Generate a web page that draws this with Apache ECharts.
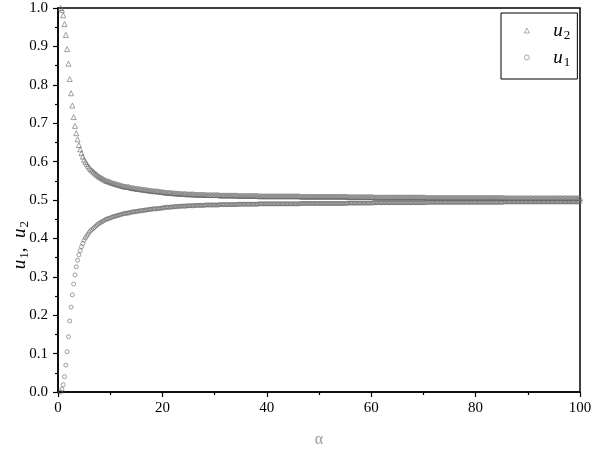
<!DOCTYPE html>
<html>
<head>
<meta charset="utf-8">
<script src="https://cdn.jsdelivr.net/npm/echarts@6/dist/echarts.min.js"></script>
<style>
  html, body { margin: 0; padding: 0; background: #fff; }
  #chart { width: 592px; height: 450px; }
</style>
</head>
<body>
<div id="chart"></div>
<script>
// x positions of the samples
const xs = [
  0.5, 0.75, 1, 1.25, 1.5, 1.75, 2, 2.25, 2.5, 2.75, 3, 3.25, 3.5, 3.75, 4, 4.25, 4.5, 4.75, 5,
  5.25, 5.5, 5.75, 6, 6.25, 6.5, 6.75, 7, 7.25, 7.5, 7.75, 8, 8.25, 8.5, 8.75, 9, 9.25, 9.5, 9.75, 10,
  10.25, 10.5, 10.75, 11, 11.25, 11.5, 11.75, 12, 12.25, 12.5, 12.75, 13, 13.25, 13.5, 13.75, 14, 14.25, 14.5, 14.75, 15,
  15.25, 15.5, 15.75, 16, 16.25, 16.5, 16.75, 17, 17.25, 17.5, 17.75, 18, 18.25, 18.5, 18.75, 19, 19.25, 19.5, 19.75, 20,
  20.25, 20.5, 20.75, 21, 21.25, 21.5, 21.75, 22, 22.25, 22.5, 22.75, 23, 23.25, 23.5, 23.75, 24, 24.25, 24.5, 24.75, 25,
  25.25, 25.5, 25.75, 26, 26.25, 26.5, 26.75, 27, 27.25, 27.5, 27.75, 28, 28.25, 28.5, 28.75, 29, 29.25, 29.5, 29.75, 30,
  30.25, 30.5, 30.75, 31, 31.25, 31.5, 31.75, 32, 32.25, 32.5, 32.75, 33, 33.25, 33.5, 33.75, 34, 34.25, 34.5, 34.75, 35,
  35.25, 35.5, 35.75, 36, 36.25, 36.5, 36.75, 37, 37.25, 37.5, 37.75, 38, 38.25, 38.5, 38.75, 39, 39.25, 39.5, 39.75, 40,
  40.25, 40.5, 40.75, 41, 41.25, 41.5, 41.75, 42, 42.25, 42.5, 42.75, 43, 43.25, 43.5, 43.75, 44, 44.25, 44.5, 44.75, 45,
  45.25, 45.5, 45.75, 46, 46.25, 46.5, 46.75, 47, 47.25, 47.5, 47.75, 48, 48.25, 48.5, 48.75, 49, 49.25, 49.5, 49.75, 50,
  50.25, 50.5, 50.75, 51, 51.25, 51.5, 51.75, 52, 52.25, 52.5, 52.75, 53, 53.25, 53.5, 53.75, 54, 54.25, 54.5, 54.75, 55,
  55.25, 55.5, 55.75, 56, 56.25, 56.5, 56.75, 57, 57.25, 57.5, 57.75, 58, 58.25, 58.5, 58.75, 59, 59.25, 59.5, 59.75, 60,
  60.25, 60.5, 60.75, 61, 61.25, 61.5, 61.75, 62, 62.25, 62.5, 62.75, 63, 63.25, 63.5, 63.75, 64, 64.25, 64.5, 64.75, 65,
  65.25, 65.5, 65.75, 66, 66.25, 66.5, 66.75, 67, 67.25, 67.5, 67.75, 68, 68.25, 68.5, 68.75, 69, 69.25, 69.5, 69.75, 70,
  70.25, 70.5, 70.75, 71, 71.25, 71.5, 71.75, 72, 72.25, 72.5, 72.75, 73, 73.25, 73.5, 73.75, 74, 74.25, 74.5, 74.75, 75,
  75.25, 75.5, 75.75, 76, 76.25, 76.5, 76.75, 77, 77.25, 77.5, 77.75, 78, 78.25, 78.5, 78.75, 79, 79.25, 79.5, 79.75, 80,
  80.25, 80.5, 80.75, 81, 81.25, 81.5, 81.75, 82, 82.25, 82.5, 82.75, 83, 83.25, 83.5, 83.75, 84, 84.25, 84.5, 84.75, 85,
  85.25, 85.5, 85.75, 86, 86.25, 86.5, 86.75, 87, 87.25, 87.5, 87.75, 88, 88.25, 88.5, 88.75, 89, 89.25, 89.5, 89.75, 90,
  90.25, 90.5, 90.75, 91, 91.25, 91.5, 91.75, 92, 92.25, 92.5, 92.75, 93, 93.25, 93.5, 93.75, 94, 94.25, 94.5, 94.75, 95,
  95.25, 95.5, 95.75, 96, 96.25, 96.5, 96.75, 97, 97.25, 97.5, 97.75, 98, 98.25, 98.5, 98.75, 99, 99.25, 99.5, 99.75, 100
]

// u2 (triangles)
const u2 = [
  1.000, 0.995, 0.981, 0.958, 0.930, 0.893, 0.855, 0.815, 0.778, 0.746, 0.716, 0.693, 0.674, 0.658, 0.643, 0.632, 0.622, 0.613, 0.605,
  0.599, 0.594, 0.589, 0.584, 0.580, 0.577, 0.574, 0.571, 0.568, 0.565, 0.562, 0.560, 0.558, 0.556, 0.554, 0.552, 0.550, 0.549, 0.548, 0.547,
  0.545, 0.544, 0.543, 0.542, 0.541, 0.540, 0.539, 0.538, 0.537, 0.536, 0.535, 0.535, 0.534, 0.534, 0.533, 0.532, 0.531, 0.531, 0.530, 0.530,
  0.529, 0.529, 0.528, 0.528, 0.527, 0.527, 0.526, 0.526, 0.525, 0.525, 0.524, 0.524, 0.523, 0.523, 0.523, 0.523, 0.522, 0.522, 0.521, 0.521,
  0.520, 0.520, 0.519, 0.519, 0.519, 0.519, 0.518, 0.518, 0.518, 0.517, 0.517, 0.517, 0.517, 0.516, 0.516, 0.516, 0.516, 0.516, 0.515, 0.515,
  0.515, 0.515, 0.515, 0.515, 0.514, 0.514, 0.514, 0.514, 0.514, 0.514, 0.514, 0.514, 0.513, 0.513, 0.513, 0.513, 0.513, 0.513, 0.513, 0.513,
  0.513, 0.513, 0.513, 0.512, 0.512, 0.512, 0.512, 0.512, 0.512, 0.512, 0.512, 0.512, 0.512, 0.512, 0.512, 0.512, 0.512, 0.511, 0.511, 0.511,
  0.511, 0.511, 0.511, 0.511, 0.511, 0.511, 0.511, 0.511, 0.511, 0.511, 0.511, 0.511, 0.511, 0.510, 0.510, 0.510, 0.510, 0.510, 0.510, 0.510,
  0.510, 0.510, 0.510, 0.510, 0.510, 0.510, 0.510, 0.510, 0.510, 0.510, 0.510, 0.510, 0.510, 0.510, 0.510, 0.510, 0.510, 0.510, 0.510, 0.510,
  0.510, 0.510, 0.510, 0.510, 0.510, 0.509, 0.509, 0.509, 0.509, 0.509, 0.509, 0.509, 0.509, 0.509, 0.509, 0.509, 0.509, 0.509, 0.509, 0.509,
  0.509, 0.509, 0.509, 0.509, 0.509, 0.509, 0.509, 0.509, 0.509, 0.509, 0.509, 0.509, 0.509, 0.509, 0.509, 0.509, 0.509, 0.509, 0.509, 0.509,
  0.509, 0.508, 0.508, 0.508, 0.508, 0.508, 0.508, 0.508, 0.508, 0.508, 0.508, 0.508, 0.508, 0.508, 0.508, 0.508, 0.508, 0.508, 0.508, 0.508,
  0.508, 0.507, 0.507, 0.507, 0.507, 0.507, 0.507, 0.507, 0.507, 0.507, 0.507, 0.507, 0.507, 0.507, 0.507, 0.507, 0.507, 0.507, 0.507, 0.507,
  0.507, 0.507, 0.507, 0.507, 0.507, 0.507, 0.507, 0.507, 0.507, 0.507, 0.507, 0.507, 0.507, 0.507, 0.507, 0.507, 0.507, 0.507, 0.507, 0.507,
  0.507, 0.506, 0.506, 0.506, 0.506, 0.506, 0.506, 0.506, 0.506, 0.506, 0.506, 0.506, 0.506, 0.506, 0.506, 0.506, 0.506, 0.506, 0.506, 0.506,
  0.506, 0.506, 0.506, 0.506, 0.506, 0.506, 0.506, 0.506, 0.506, 0.506, 0.506, 0.506, 0.506, 0.506, 0.506, 0.506, 0.506, 0.506, 0.506, 0.506,
  0.506, 0.506, 0.506, 0.506, 0.506, 0.506, 0.506, 0.506, 0.506, 0.506, 0.506, 0.506, 0.506, 0.506, 0.506, 0.506, 0.506, 0.506, 0.506, 0.506,
  0.506, 0.505, 0.505, 0.505, 0.505, 0.505, 0.505, 0.505, 0.505, 0.505, 0.505, 0.505, 0.505, 0.505, 0.505, 0.505, 0.505, 0.505, 0.505, 0.505,
  0.505, 0.505, 0.505, 0.505, 0.505, 0.505, 0.505, 0.505, 0.505, 0.505, 0.505, 0.505, 0.505, 0.505, 0.505, 0.505, 0.505, 0.505, 0.505, 0.505,
  0.505, 0.505, 0.505, 0.505, 0.505, 0.505, 0.505, 0.505, 0.505, 0.505, 0.505, 0.505, 0.505, 0.505, 0.505, 0.505, 0.505, 0.505, 0.505, 0.505
]

// u1 (circles)
const u1 = [
  0.000, 0.007, 0.019, 0.040, 0.070, 0.105, 0.144, 0.185, 0.221, 0.253, 0.281, 0.305, 0.326, 0.343, 0.357, 0.368, 0.378, 0.387, 0.395,
  0.401, 0.406, 0.411, 0.416, 0.420, 0.423, 0.426, 0.429, 0.432, 0.435, 0.438, 0.440, 0.442, 0.444, 0.446, 0.448, 0.450, 0.451, 0.452, 0.453,
  0.455, 0.456, 0.457, 0.458, 0.459, 0.460, 0.461, 0.462, 0.463, 0.464, 0.465, 0.465, 0.466, 0.466, 0.467, 0.468, 0.469, 0.469, 0.470, 0.470,
  0.471, 0.471, 0.472, 0.472, 0.473, 0.473, 0.474, 0.474, 0.475, 0.475, 0.476, 0.476, 0.477, 0.477, 0.477, 0.477, 0.478, 0.478, 0.479, 0.479,
  0.480, 0.480, 0.481, 0.481, 0.481, 0.481, 0.482, 0.482, 0.482, 0.483, 0.483, 0.483, 0.483, 0.484, 0.484, 0.484, 0.484, 0.484, 0.485, 0.485,
  0.485, 0.485, 0.485, 0.485, 0.486, 0.486, 0.486, 0.486, 0.486, 0.486, 0.486, 0.486, 0.487, 0.487, 0.487, 0.487, 0.487, 0.487, 0.487, 0.487,
  0.487, 0.487, 0.487, 0.488, 0.488, 0.488, 0.488, 0.488, 0.488, 0.488, 0.488, 0.488, 0.488, 0.488, 0.488, 0.488, 0.488, 0.489, 0.489, 0.489,
  0.489, 0.489, 0.489, 0.489, 0.489, 0.489, 0.489, 0.489, 0.489, 0.489, 0.489, 0.489, 0.489, 0.490, 0.490, 0.490, 0.490, 0.490, 0.490, 0.490,
  0.490, 0.490, 0.490, 0.490, 0.490, 0.490, 0.490, 0.490, 0.490, 0.490, 0.490, 0.490, 0.490, 0.490, 0.490, 0.490, 0.490, 0.490, 0.490, 0.490,
  0.490, 0.490, 0.490, 0.490, 0.490, 0.491, 0.491, 0.491, 0.491, 0.491, 0.491, 0.491, 0.491, 0.491, 0.491, 0.491, 0.491, 0.491, 0.491, 0.491,
  0.491, 0.491, 0.491, 0.491, 0.491, 0.491, 0.491, 0.491, 0.491, 0.491, 0.491, 0.491, 0.491, 0.491, 0.491, 0.491, 0.491, 0.491, 0.491, 0.491,
  0.491, 0.492, 0.492, 0.492, 0.492, 0.492, 0.492, 0.492, 0.492, 0.492, 0.492, 0.492, 0.492, 0.492, 0.492, 0.492, 0.492, 0.492, 0.492, 0.492,
  0.492, 0.493, 0.493, 0.493, 0.493, 0.493, 0.493, 0.493, 0.493, 0.493, 0.493, 0.493, 0.493, 0.493, 0.493, 0.493, 0.493, 0.493, 0.493, 0.493,
  0.493, 0.493, 0.493, 0.493, 0.493, 0.493, 0.493, 0.493, 0.493, 0.493, 0.493, 0.493, 0.493, 0.493, 0.493, 0.493, 0.493, 0.493, 0.493, 0.493,
  0.493, 0.494, 0.494, 0.494, 0.494, 0.494, 0.494, 0.494, 0.494, 0.494, 0.494, 0.494, 0.494, 0.494, 0.494, 0.494, 0.494, 0.494, 0.494, 0.494,
  0.494, 0.494, 0.494, 0.494, 0.494, 0.494, 0.494, 0.494, 0.494, 0.494, 0.494, 0.494, 0.494, 0.494, 0.494, 0.494, 0.494, 0.494, 0.494, 0.494,
  0.494, 0.494, 0.494, 0.494, 0.494, 0.494, 0.494, 0.494, 0.494, 0.494, 0.494, 0.494, 0.494, 0.494, 0.494, 0.494, 0.494, 0.494, 0.494, 0.494,
  0.494, 0.495, 0.495, 0.495, 0.495, 0.495, 0.495, 0.495, 0.495, 0.495, 0.495, 0.495, 0.495, 0.495, 0.495, 0.495, 0.495, 0.495, 0.495, 0.495,
  0.495, 0.495, 0.495, 0.495, 0.495, 0.495, 0.495, 0.495, 0.495, 0.495, 0.495, 0.495, 0.495, 0.495, 0.495, 0.495, 0.495, 0.495, 0.495, 0.495,
  0.495, 0.495, 0.495, 0.495, 0.495, 0.495, 0.495, 0.495, 0.495, 0.495, 0.495, 0.495, 0.495, 0.495, 0.495, 0.495, 0.495, 0.495, 0.495, 0.495
]

const xTicks = [0, 20, 40, 60, 80, 100]
const yTicks = [0, 0.1, 0.2, 0.3, 0.4, 0.5, 0.6, 0.7, 0.8, 0.9, 1.0]

const FONT = '"Liberation Serif", "DejaVu Serif", serif'
const markColor = '#6a6a6a'

// italic u with a subscript digit
const richStyle = {
  g: { width: 19 },
  i: { fontFamily: FONT, fontStyle: 'italic', fontSize: 19, color: '#000' },
  s: { fontFamily: FONT, fontSize: 13, color: '#000', padding: [10, 0, 0, 1] },
  n: { fontFamily: FONT, fontSize: 19, color: '#000' }
}

const chart = echarts.init(document.getElementById('chart'), null, { renderer: 'canvas' })

const option = {
  animation: false,
  backgroundColor: '#fff',
  grid: {
    left: 58,
    right: 12,
    top: 8,
    bottom: 58,
    outerBoundsMode: 'none',
    show: true,
    borderColor: '#000',
    borderWidth: 1.5,
    backgroundColor: 'transparent'
  },
  xAxis: {
    type: 'value',
    min: xTicks[0],
    max: xTicks[xTicks.length - 1],
    interval: xTicks[1] - xTicks[0],
    name: 'α',
    nameLocation: 'middle',
    nameGap: 40,
    nameTextStyle: { fontFamily: FONT, fontSize: 16, color: '#9a9a9a' },
    axisLine: { onZero: false, lineStyle: { color: '#000', width: 1.5 } },
    axisTick: { show: true, length: 5, lineStyle: { color: '#000', width: 1.2 } },
    minorTick: { show: true, splitNumber: 2, length: 3, lineStyle: { color: '#000', width: 1.2 } },
    axisLabel: { fontFamily: FONT, fontSize: 15, color: '#000', margin: 9 },
    splitLine: { show: false }
  },
  yAxis: {
    type: 'value',
    min: yTicks[0],
    max: yTicks[yTicks.length - 1],
    interval: 0.1,
    axisLine: { onZero: false, lineStyle: { color: '#000', width: 1.5 } },
    axisTick: { show: true, length: 5, lineStyle: { color: '#000', width: 1.2 } },
    minorTick: { show: true, splitNumber: 2, length: 3, lineStyle: { color: '#000', width: 1.2 } },
    axisLabel: {
      fontFamily: FONT, fontSize: 15, color: '#000', margin: 10,
      formatter: v => v.toFixed(1)
    },
    splitLine: { show: false }
  },
  legend: {
    data: [{ name: 'u2', icon: 'triangle' }, { name: 'u1', icon: 'circle' }],
    orient: 'vertical',
    left: 501,
    top: 13,
    padding: [8, 7, 10, 23],
    itemWidth: 5,
    itemHeight: 5,
    itemGap: 6,
    symbolKeepAspect: true,
    itemStyle: { borderWidth: 0.7 },
    borderColor: '#000',
    borderWidth: 1,
    backgroundColor: '#fff',
    formatter: name => '{g|}{i|u}{s|' + name.slice(1) + '}',
    textStyle: { rich: richStyle }
  },
  graphic: [
    {
      type: 'text',
      x: 20,
      y: 245,
      rotation: Math.PI / 2,
      style: {
        text: '{i|u}{s|1}{n|,  }{i|u}{s|2}',
        rich: richStyle,
        align: 'center',
        verticalAlign: 'middle'
      }
    }
  ],
  series: [
    {
      name: 'u2',
      type: 'scatter',
      symbol: 'triangle',
      symbolSize: 5,
      data: xs.map((x, i) => [x, u2[i]]),
      itemStyle: { color: 'rgba(0,0,0,0)', borderColor: markColor, borderWidth: 0.8 },
      emphasis: { disabled: true }
    },
    {
      name: 'u1',
      type: 'scatter',
      symbol: 'circle',
      symbolSize: 4,
      data: xs.map((x, i) => [x, u1[i]]),
      itemStyle: { color: 'rgba(0,0,0,0)', borderColor: markColor, borderWidth: 0.8 },
      emphasis: { disabled: true }
    }
  ]
}

chart.setOption(option)
</script>
</body>
</html>
